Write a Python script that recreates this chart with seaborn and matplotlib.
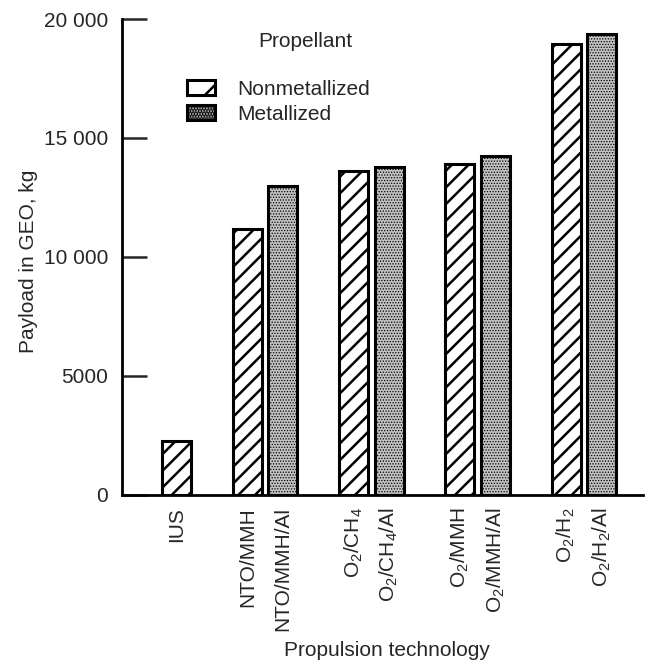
import matplotlib
matplotlib.use("Agg")
import matplotlib.pyplot as plt
import seaborn as sns
import pandas as pd
from matplotlib.patches import Patch

# Data
technologies = ["IUS", "NTO/MMH", "NTO/MMH/Al",
                "O$_2$/CH$_4$", "O$_2$/CH$_4$/Al",
                "O$_2$/MMH", "O$_2$/MMH/Al",
                "O$_2$/H$_2$", "O$_2$/H$_2$/Al"]
payload = [2270, 11180, 12980, 13610, 13780, 13900, 14240, 18950, 19370]
propellant = ["Nonmetallized", "Nonmetallized", "Metallized",
              "Nonmetallized", "Metallized",
              "Nonmetallized", "Metallized",
              "Nonmetallized", "Metallized"]
prop_levels = ["Nonmetallized", "Metallized"]
ytick_values = [0, 5000, 10000, 15000, 20000]
ytick_labels = ["0", "5000", "10 000", "15 000", "20 000"]

df = pd.DataFrame({"tech": technologies, "payload": payload, "prop": propellant})

# slot order with empty slots between the groups
order = ["IUS", " ", "NTO/MMH", "NTO/MMH/Al", "  ",
         "O$_2$/CH$_4$", "O$_2$/CH$_4$/Al", "   ",
         "O$_2$/MMH", "O$_2$/MMH/Al", "    ",
         "O$_2$/H$_2$", "O$_2$/H$_2$/Al"]

sns.set_style("ticks")
plt.rcParams['font.family'] = ['Liberation Sans', 'DejaVu Sans']
plt.rcParams['mathtext.fontset'] = 'custom'
plt.rcParams['mathtext.rm'] = 'Liberation Sans'
plt.rcParams['mathtext.it'] = 'Liberation Sans:italic'
plt.rcParams['mathtext.bf'] = 'Liberation Sans:bold'
plt.rcParams['hatch.linewidth'] = 1.8

fig = plt.figure(figsize=(6.48, 6.67), dpi=100)
ax = fig.add_axes([0.188, 0.258, 0.804, 0.7135])

sns.barplot(data=df, x="tech", y="payload", hue="prop", order=order,
            hue_order=prop_levels, dodge=False, width=0.82,
            palette={"Nonmetallized": "white", "Metallized": "white"},
            edgecolor="black", linewidth=2.2, legend=False, ax=ax)

hatches = {"Nonmetallized": "//", "Metallized": "......"}
dot_face = "#c2c2c2"


def style_patch(p, lvl):
    p.set_hatch(hatches[lvl])
    if lvl == "Metallized":
        p.set_facecolor(dot_face)
        if hasattr(p, "set_hatch_linewidth"):
            p.set_hatch_linewidth(0.6)


for cont, lvl in zip(ax.containers, prop_levels):
    for bar in cont:
        style_patch(bar, lvl)

ax.set_xlim(-1.54, 13.16)
ax.set_ylim(0, 20000)
ax.set_yticks(ytick_values)
ax.set_yticklabels(ytick_labels)
ax.set_xticks(range(len(order)))
ax.set_xticklabels([o.strip() for o in order])

ax.tick_params(axis='y', direction='in', length=18, width=1.8, pad=10, labelsize=15)
ax.tick_params(axis='x', length=0, pad=9, labelsize=15, labelrotation=90)

sns.despine(ax=ax)
for s in ["left", "bottom"]:
    ax.spines[s].set_linewidth(2)
    ax.spines[s].set_color("black")

ax.set_xlabel("Propulsion technology", fontsize=15)
ax.xaxis.set_label_coords(0.509, -0.307)
ax.set_ylabel("Payload in GEO, kg", fontsize=15)
ax.yaxis.set_label_coords(-0.16, 0.49)

handles = []
for lvl in prop_levels:
    h = Patch(facecolor="white", edgecolor="black", linewidth=2.2)
    style_patch(h, lvl)
    if lvl == "Nonmetallized":
        h.set_hatch("/")
    handles.append(h)
ax.legend(handles, prop_levels, loc="upper left", bbox_to_anchor=(0.125, 0.872),
          frameon=False, fontsize=15, borderpad=0, borderaxespad=0,
          handlelength=1.35, handleheight=0.72, handletextpad=1.05,
          labelspacing=0.3)
ax.text(0.353, 0.952, "Propellant", transform=ax.transAxes, fontsize=15,
        ha="center", va="center")

fig.savefig("out.png", dpi=100)
